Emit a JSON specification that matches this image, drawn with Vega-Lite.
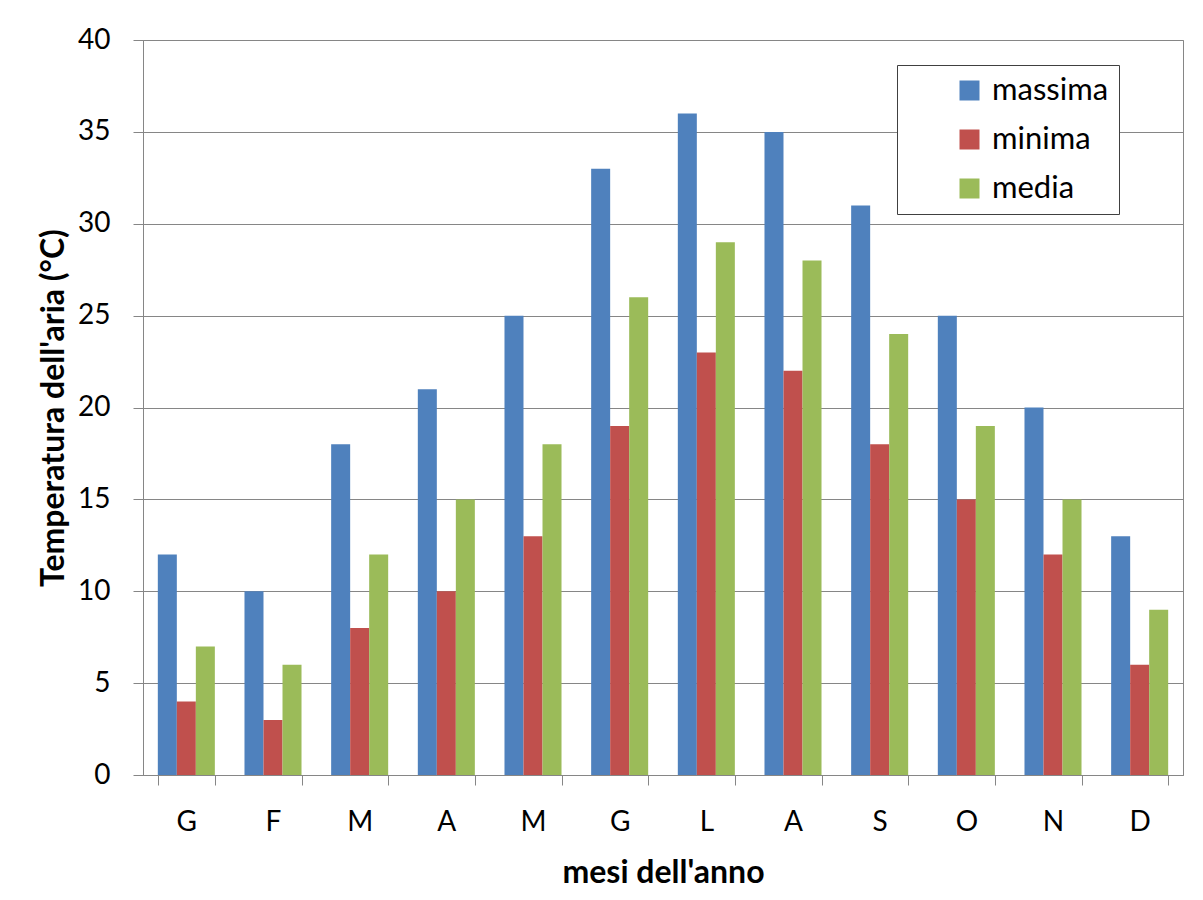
{
  "$schema": "https://vega.github.io/schema/vega-lite/v6.json",
  "autosize": {"type": "none"},
  "width": 1040,
  "height": 735,
  "padding": {"left": 143, "top": 40, "right": 20, "bottom": 125},
  "background": "white",
  "config": {
    "font": "Lato",
    "view": {"stroke": "#868686", "strokeWidth": 1},
    "axis": {
      "domainColor": "#868686",
      "tickColor": "#868686",
      "gridColor": "#868686",
      "labelColor": "#000000",
      "titleColor": "#000000",
      "labelFont": "Lato",
      "titleFont": "Lato"
    }
  },
  "data": {
    "values": [
      {"mese": "gen", "serie": "massima", "temp": 12},
      {"mese": "gen", "serie": "minima", "temp": 4},
      {"mese": "gen", "serie": "media", "temp": 7},
      {"mese": "feb", "serie": "massima", "temp": 10},
      {"mese": "feb", "serie": "minima", "temp": 3},
      {"mese": "feb", "serie": "media", "temp": 6},
      {"mese": "mar", "serie": "massima", "temp": 18},
      {"mese": "mar", "serie": "minima", "temp": 8},
      {"mese": "mar", "serie": "media", "temp": 12},
      {"mese": "apr", "serie": "massima", "temp": 21},
      {"mese": "apr", "serie": "minima", "temp": 10},
      {"mese": "apr", "serie": "media", "temp": 15},
      {"mese": "mag", "serie": "massima", "temp": 25},
      {"mese": "mag", "serie": "minima", "temp": 13},
      {"mese": "mag", "serie": "media", "temp": 18},
      {"mese": "giu", "serie": "massima", "temp": 33},
      {"mese": "giu", "serie": "minima", "temp": 19},
      {"mese": "giu", "serie": "media", "temp": 26},
      {"mese": "lug", "serie": "massima", "temp": 36},
      {"mese": "lug", "serie": "minima", "temp": 23},
      {"mese": "lug", "serie": "media", "temp": 29},
      {"mese": "ago", "serie": "massima", "temp": 35},
      {"mese": "ago", "serie": "minima", "temp": 22},
      {"mese": "ago", "serie": "media", "temp": 28},
      {"mese": "set", "serie": "massima", "temp": 31},
      {"mese": "set", "serie": "minima", "temp": 18},
      {"mese": "set", "serie": "media", "temp": 24},
      {"mese": "ott", "serie": "massima", "temp": 25},
      {"mese": "ott", "serie": "minima", "temp": 15},
      {"mese": "ott", "serie": "media", "temp": 19},
      {"mese": "nov", "serie": "massima", "temp": 20},
      {"mese": "nov", "serie": "minima", "temp": 12},
      {"mese": "nov", "serie": "media", "temp": 15},
      {"mese": "dic", "serie": "massima", "temp": 13},
      {"mese": "dic", "serie": "minima", "temp": 6},
      {"mese": "dic", "serie": "media", "temp": 9}
    ]
  },
  "mark": {"type": "bar"},
  "encoding": {
    "x": {
      "field": "mese",
      "type": "nominal",
      "sort": null,
      "scale": {"paddingInner": 0.342, "paddingOuter": 0.171},
      "axis": {
        "title": "mesi dell'anno",
        "titleFontSize": 32,
        "titleFontWeight": "bold",
        "titlePadding": 21,
        "labelExpr": "isString(datum.value) ? upper(substring(datum.value, 0, 1)) : ''",
        "labelAngle": 0,
        "labelFontSize": 28,
        "labelPadding": 23,
        "ticks": true,
        "tickSize": 10,
        "tickBand": "extent",
        "grid": false
      }
    },
    "xOffset": {
      "field": "serie",
      "type": "nominal",
      "sort": ["massima", "minima", "media"],
      "scale": {"paddingInner": 0, "paddingOuter": 0}
    },
    "y": {
      "field": "temp",
      "type": "quantitative",
      "scale": {"domain": [0, 40], "nice": false},
      "axis": {
        "title": "Temperatura dell'aria (°C)",
        "titleFontSize": 32,
        "titleFontWeight": "bold",
        "titlePadding": 7,
        "values": [0, 5, 10, 15, 20, 25, 30, 35, 40],
        "labelFontSize": 28,
        "labelPadding": 23,
        "tickSize": 10,
        "grid": true
      }
    },
    "color": {
      "field": "serie",
      "type": "nominal",
      "sort": ["massima", "minima", "media"],
      "scale": {
        "domain": ["massima", "minima", "media"],
        "range": ["#4F81BD", "#C0504D", "#9BBB59"]
      },
      "legend": {
        "title": null,
        "orient": "none",
        "legendX": 754,
        "legendY": 25,
        "direction": "vertical",
        "symbolType": "square",
        "symbolSize": 400,
        "symbolStrokeWidth": 0,
        "symbolOpacity": 1,
        "symbolOffset": 47,
        "labelFontSize": 31,
        "labelColor": "#000000",
        "labelOffset": 7,
        "labelLimit": 400,
        "labelExpr": "datum.label + '\u00a0\u00a0\u00a0\u00a0\u00a0\u00a0\u00a0'",
        "rowPadding": 17,
        "padding": 10,
        "strokeColor": "#404040",
        "fillColor": "#FFFFFF"
      }
    }
  }
}
